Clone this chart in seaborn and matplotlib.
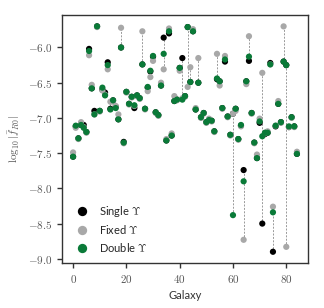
import numpy as np
import pandas as pd
import matplotlib
matplotlib.use("Agg")
import matplotlib.pyplot as plt
import seaborn as sns
from matplotlib import ticker

# log10 |f_R0| per galaxy
single = [-7.55, -7.12, -7.29, -7.10, -7.10, -7.20, -6.02, -6.58, -6.90, -5.70,
          -6.90, -6.60, -6.64, -6.21, -6.87, -6.75, -6.84, -7.02, -6.00, -7.34,
          -6.63, -6.80, -6.70, -6.86, -6.68, -6.72, -6.24, -6.87, -6.57, -6.34,
          -6.13, -6.92, -6.96, -6.54, -5.86, -7.32, -5.80, -7.25, -6.76, -6.74,
          -6.29, -6.15, -6.69, -5.71, -6.49, -5.77, -6.88, -6.50, -6.99, -6.93,
          -7.06, -7.03, -7.04, -7.19, -6.45, -6.48, -6.86, -6.20, -6.98, -7.24,
          -6.94, -6.87, -7.30, -7.11, -7.74, -6.48, -6.19, -6.93, -7.35, -7.57,
          -7.07, -8.50, -7.23, -7.21, -6.22, -8.90, -7.12, -6.80, -7.06, -6.20,
          -6.25, -7.13, -6.99, -7.12, -7.51]
fixed = [-7.49, -7.14, -7.30, -7.06, -7.13, -7.21, -6.11, -6.53, -6.95, -5.71,
         -6.91, -6.61, -6.67, -6.31, -6.77, -6.77, -6.83, -6.95, -5.72, -7.36,
         -6.64, -6.81, -6.71, -6.83, -6.69, -6.73, -5.77, -6.88, -6.62, -6.42,
         -6.19, -6.93, -6.97, -6.50, -6.31, -7.30, -5.73, -7.22, -6.69, -6.75,
         -6.33, -6.72, -6.70, -6.56, -6.28, -5.74, -6.86, -6.15, -7.00, -6.94,
         -7.07, -7.01, -7.05, -7.20, -6.09, -6.54, -6.87, -6.12, -6.99, -7.25,
         -6.94, -6.90, -7.31, -7.12, -8.73, -6.52, -5.84, -6.94, -7.36, -7.52,
         -7.01, -6.36, -7.22, -7.19, -6.24, -8.26, -7.11, -6.76, -7.07, -5.70,
         -8.83, -7.13, -7.00, -7.13, -7.48]
double = [-7.55, -7.11, -7.29, -7.10, -7.14, -7.20, -6.05, -6.58, -6.95, -5.70,
          -6.90, -6.57, -6.68, -6.25, -6.88, -6.75, -6.86, -7.02, -6.00, -7.35,
          -6.63, -6.80, -6.70, -6.82, -6.68, -6.72, -6.24, -6.87, -6.56, -6.33,
          -6.12, -6.92, -6.96, -6.54, -6.09, -7.32, -5.77, -7.25, -6.76, -6.74,
          -6.29, -6.74, -6.69, -5.71, -6.49, -5.77, -6.88, -6.50, -6.99, -6.93,
          -7.06, -7.03, -7.04, -7.19, -6.44, -6.48, -6.86, -6.17, -6.98, -7.24,
          -8.38, -6.87, -7.30, -7.10, -7.90, -6.48, -6.13, -6.93, -7.35, -7.57,
          -7.05, -7.26, -7.21, -7.21, -6.24, -8.34, -7.11, -6.80, -7.06, -6.20,
          -6.25, -7.12, -6.99, -7.12, -7.51]

labels = [r"Single $\Upsilon$", r"Fixed $\Upsilon$", r"Double $\Upsilon$"]
colors = ["#000000", "#a8a8a8", "#0a7a38"]

galaxy = np.arange(len(single))
df = pd.concat([
    pd.DataFrame({"Galaxy": galaxy, "f": single, "fit": labels[0]}),
    pd.DataFrame({"Galaxy": galaxy, "f": fixed, "fit": labels[1]}),
    pd.DataFrame({"Galaxy": galaxy, "f": double, "fit": labels[2]}),
], ignore_index=True)

sns.set_style("ticks")
plt.rcParams["mathtext.fontset"] = "cm"
plt.rcParams["font.family"] = ["Lato", "DejaVu Sans"]

fig = plt.figure(figsize=(3.24, 3.08), dpi=100)
ax = fig.add_axes([0.191, 0.146, 0.760, 0.805])

lo = np.minimum(np.minimum(single, fixed), double)
hi = np.maximum(np.maximum(single, fixed), double)
ax.vlines(galaxy, lo, hi, colors="0.6", linestyles=(0, (2, 1.5)), linewidth=0.7, zorder=1)

sns.scatterplot(data=df, x="Galaxy", y="f", hue="fit", palette=colors, hue_order=labels,
                s=20, linewidth=0, ax=ax, zorder=2)

for sp in ax.spines.values():
    sp.set_color("#333333")
    sp.set_linewidth(1.0)
ax.tick_params(colors="#333333", labelcolor="#555555", labelsize=8, length=3.5, width=1.0)

ax.set_xticks([0, 20, 40, 60, 80])
ax.set_yticks([-6.0, -6.5, -7.0, -7.5, -8.0, -8.5, -9.0])
# serif (Computer Modern) tick labels, as in the original
ax.xaxis.set_major_formatter(ticker.FuncFormatter(lambda v, p: f"${v:.0f}$"))
ax.yaxis.set_major_formatter(ticker.FuncFormatter(lambda v, p: f"${v:.1f}$"))
ax.set_xlabel("Galaxy", fontsize=8, color="#333333")
ax.set_ylabel(r"$\log_{10}|\bar{f}_{R0}|$", fontsize=8, color="#555555")

ax.legend(loc="lower left", frameon=False, fontsize=8, markerscale=1.5,
          handletextpad=0.5, borderaxespad=0.45, labelspacing=0.4)

fig.savefig("out.png", dpi=100)
